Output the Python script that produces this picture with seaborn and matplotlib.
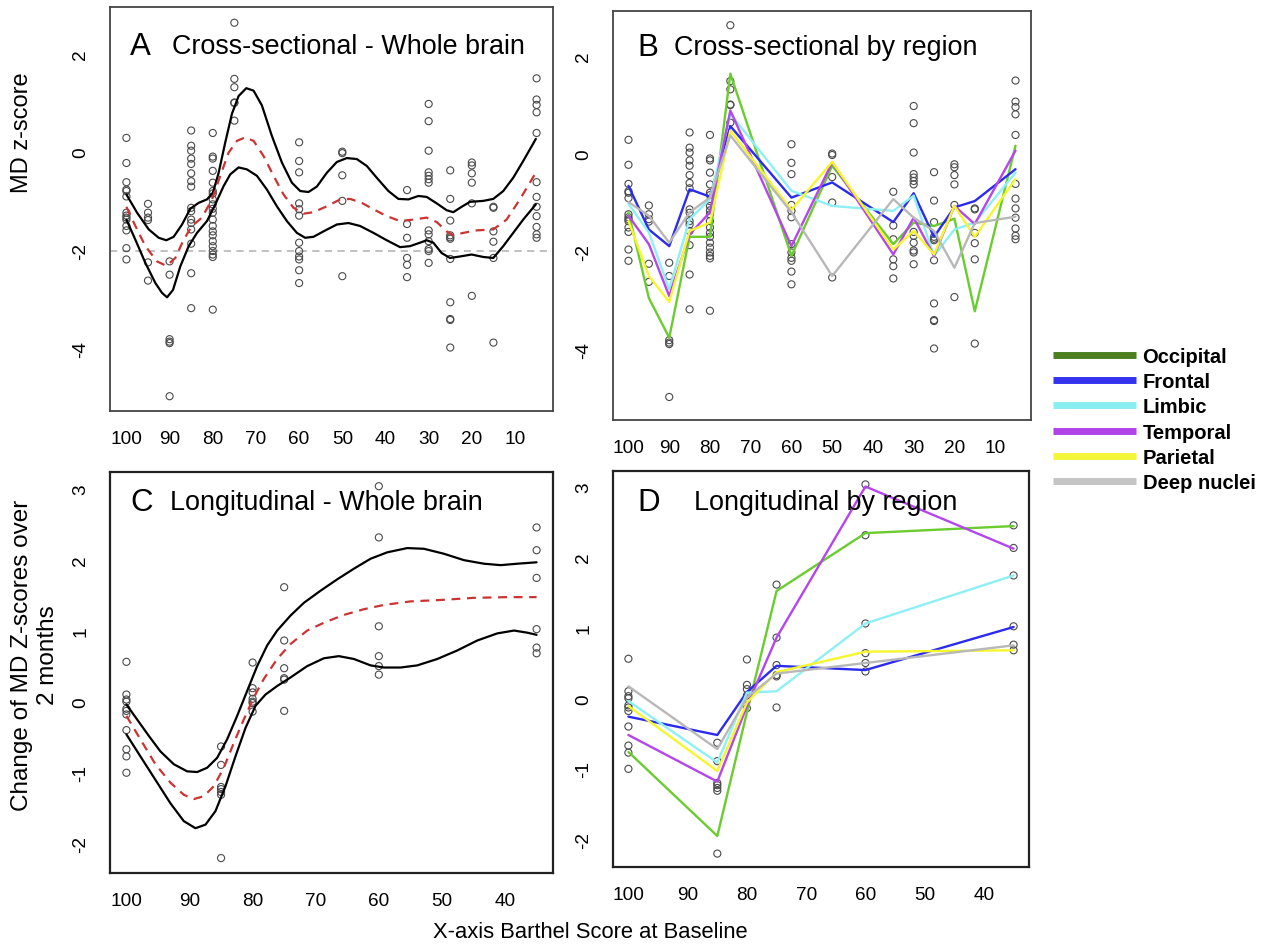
import numpy as np
import pandas as pd
import matplotlib
matplotlib.use("Agg")
import matplotlib.pyplot as plt
import seaborn as sns
from matplotlib.lines import Line2D

sns.set_style("white")
plt.rcParams["font.family"] = ["Liberation Sans", "DejaVu Sans"]
plt.rcParams["axes.unicode_minus"] = False
plt.rcParams["text.color"] = "black"

# ---- cross-sectional data (panels A, B) ----
cs_scores = [100, 95, 90, 85, 80, 75, 60, 50, 35, 30, 25, 20, 15, 5]
cs_values = [
    [0.29, -0.22, -0.61, -0.76, -0.79, -0.90, -1.23, -1.29, -1.33, -1.37, -1.50, -1.59, -1.95, -2.18],
    [-1.05, -1.23, -1.33, -1.38, -2.24, -2.61],
    [-2.22, -2.49, -3.80, -3.85, -3.88, -4.96],
    [0.44, 0.13, 0.03, -0.13, -0.24, -0.43, -0.59, -0.70, -1.13, -1.20, -1.37, -1.44, -1.57, -1.86, -2.46, -3.17],
    [0.39, -0.09, -0.13, -0.38, -0.62, -0.79, -0.84, -0.96, -1.06, -1.15, -1.23, -1.37, -1.50, -1.61,
     -1.69, -1.81, -1.91, -2.01, -2.08, -2.13, -3.20],
    [2.63, 1.49, 1.32, 1.01, 1.00, 0.64],
    [0.20, -0.18, -0.41, -1.04, -1.16, -1.29, -1.84, -2.01, -2.12, -2.18, -2.40, -2.66],
    [0.01, -0.02, -0.47, -0.99, -2.52],
    [-0.77, -1.46, -1.74, -2.15, -2.29, -2.54],
    [0.98, 0.63, 0.03, -0.41, -0.48, -0.55, -0.62, -1.59, -1.67, -1.81, -1.97, -2.01, -2.25],
    [-0.37, -0.95, -1.39, -1.69, -1.73, -1.76, -2.17, -3.05, -3.39, -3.41, -3.97],
    [-0.21, -0.27, -0.43, -0.62, -1.04, -2.92],
    [-1.11, -1.13, -1.61, -1.82, -2.15, -3.87],
    [1.50, 1.07, 0.96, 0.81, 0.39, -0.61, -0.91, -1.11, -1.30, -1.52, -1.67, -1.74],
]

# smooth fit (upper band, mean, lower band)
a_up_x = [100, 97.53, 94.83, 92.52, 90.75, 89.05, 87.12, 85.20, 83.27, 81.34, 79.95, 78.64, 77.10,
          75.56, 74.02, 72.24, 70.55, 68.62, 66.31, 63.99, 61.68, 59.75, 57.83, 55.90, 53.59, 51.27,
          48.96, 46.65, 44.33, 42.02, 39.32, 37.01, 34.69, 32.38, 30.45, 28.14, 25.83, 24.29, 22.36,
          20.43, 17.35, 15.03, 12.72, 10.41, 8.10, 5.17]
a_up_y = [-0.86, -1.23, -1.57, -1.74, -1.79, -1.72, -1.47, -1.15, -1.03, -0.96, -0.82, -0.42, 0.20,
          0.78, 1.14, 1.30, 1.25, 0.95, 0.33, -0.21, -0.62, -0.79, -0.81, -0.70, -0.42, -0.20,
          -0.12, -0.14, -0.28, -0.52, -0.79, -0.95, -0.96, -0.89, -0.91, -1.04, -1.18, -1.22, -1.11,
          -1.01, -0.99, -0.95, -0.79, -0.52, -0.18, 0.27]
a_lo_x = [100, 97.92, 95.61, 93.29, 91.75, 90.59, 89.21, 87.51, 85.58, 83.65, 81.34, 79.41, 77.49,
          75.94, 74.02, 72.09, 69.78, 67.46, 65.15, 62.84, 60.52, 58.60, 56.67, 54.36, 51.27, 48.57,
          45.88, 42.79, 39.71, 36.62, 34.31, 32.00, 30.45, 28.91, 26.99, 25.06, 22.74, 20.05, 17.35,
          15.03, 12.72, 10.41, 8.10, 5.17]
a_lo_y = [-1.37, -1.78, -2.25, -2.66, -2.86, -2.95, -2.80, -2.32, -1.91, -1.64, -1.40, -1.06, -0.69,
          -0.45, -0.31, -0.35, -0.48, -0.76, -1.10, -1.40, -1.64, -1.74, -1.72, -1.61, -1.47, -1.44,
          -1.50, -1.64, -1.79, -1.93, -1.91, -1.84, -1.79, -1.84, -2.05, -2.15, -2.12, -2.08, -2.13,
          -2.15, -1.91, -1.64, -1.37, -1.06]
a_mid_x = [100, 97.92, 95.61, 92.91, 90.75, 88.67, 86.74, 84.81, 82.50, 80.18, 78.26, 76.33, 74.40,
           72.47, 70.55, 68.23, 65.92, 63.61, 61.30, 58.98, 56.67, 53.59, 50.50, 48.19, 45.49, 42.79,
           39.71, 36.62, 33.54, 30.45, 28.14, 25.83, 24.29, 21.97, 18.89, 15.03, 11.95, 8.87, 5.40]
a_mid_y = [-1.11, -1.50, -1.91, -2.22, -2.31, -2.15, -1.78, -1.50, -1.33, -0.96, -0.48, -0.01, 0.23,
           0.30, 0.23, -0.08, -0.48, -0.86, -1.13, -1.25, -1.22, -1.10, -0.96, -0.95, -1.03, -1.16,
           -1.30, -1.40, -1.37, -1.33, -1.42, -1.61, -1.69, -1.64, -1.59, -1.57, -1.37, -0.96, -0.45]

# region means, panel B
regions = ["Occipital", "Frontal", "Limbic", "Temporal", "Parietal", "Deep nuclei"]
b_occipital = [-1.19, -2.94, -3.75, -1.69, -1.69, 1.64, -2.08, -0.24, -1.84, -1.40, -1.47, -1.32, -3.21, 0.17]
b_frontal = [-0.65, -1.54, -1.88, -0.72, -0.87, 0.57, -0.89, -0.58, -1.39, -0.80, -1.69, -1.09, -0.96, -0.31]
b_limbic = [-1.02, -1.60, -2.76, -1.33, -0.92, 0.82, -0.75, -1.06, -1.16, -0.85, -2.08, -1.54, -1.40, -0.38]
b_temporal = [-1.26, -1.84, -2.90, -1.64, -1.19, 0.89, -1.88, -0.17, -2.05, -1.30, -2.08, -1.06, -1.43, 0.07]
b_parietal = [-1.37, -2.49, -3.02, -1.57, -1.40, 0.48, -1.14, -0.16, -1.95, -1.57, -2.05, -1.06, -1.69, -0.51]
b_deep = [-0.98, -1.26, -1.81, -1.19, -0.89, 0.38, -1.19, -2.49, -0.92, -1.30, -1.57, -2.32, -1.41, -1.28]

# ---- longitudinal data (panels C, D) ----
lg_scores = [100, 85, 80, 75, 60, 35]
lg_values = [
    [0.56, 0.10, 0.03, 0.0, -0.10, -0.13, -0.18, -0.40, -0.67, -0.77, -1.00],
    [-0.63, -0.89, -1.20, -1.23, -1.27, -1.31, -2.20],
    [0.55, 0.19, 0.13, 0.04, 0.0, -0.02, -0.14],
    [1.61, 0.86, 0.47, 0.33, 0.31, -0.13],
    [3.03, 2.31, 1.06, 0.64, 0.50, 0.38],
    [2.45, 2.13, 1.74, 1.02, 0.76, 0.68],
]

c_up_x = [100, 98.31, 96.46, 94.61, 92.49, 90.38, 88.79, 87.21, 85.62, 84.04, 82.45, 80.87, 79.28,
          77.70, 76.11, 74.00, 71.88, 69.24, 66.60, 63.95, 61.31, 58.67, 55.50, 52.85, 49.68, 46.51,
          43.34, 40.70, 38.05, 35.0]
c_up_y = [-0.04, -0.25, -0.48, -0.70, -0.88, -0.98, -0.99, -0.93, -0.79, -0.53, -0.20, 0.15, 0.50,
          0.79, 1.00, 1.21, 1.39, 1.56, 1.72, 1.87, 2.01, 2.10, 2.16, 2.15, 2.08, 1.99,
          1.94, 1.92, 1.94, 1.96]
c_lo_x = [100, 97.78, 95.40, 93.02, 90.91, 89.06, 87.47, 85.89, 84.30, 82.72, 81.13, 79.55, 77.96,
          76.11, 74.00, 71.35, 68.71, 66.33, 63.95, 61.31, 59.20, 56.55, 53.91, 50.74, 47.57, 44.40,
          41.23, 38.58, 36.47, 35.0]
c_lo_y = [-0.46, -0.77, -1.10, -1.43, -1.68, -1.78, -1.73, -1.54, -1.19, -0.77, -0.37, -0.06, 0.10,
          0.22, 0.34, 0.50, 0.61, 0.64, 0.60, 0.51, 0.48, 0.48, 0.51, 0.60, 0.72, 0.86,
          0.96, 1.00, 0.97, 0.94]
c_mid_x = [100, 97.78, 95.40, 93.02, 90.91, 89.32, 87.74, 86.15, 84.57, 82.98, 81.40, 79.81, 78.22,
           76.11, 74.00, 71.35, 68.71, 65.54, 62.37, 59.20, 54.97, 50.21, 44.93, 39.64, 35.0]
c_mid_y = [-0.20, -0.53, -0.88, -1.14, -1.31, -1.37, -1.33, -1.19, -0.93, -0.58, -0.25, 0.06, 0.32,
           0.60, 0.81, 1.00, 1.11, 1.22, 1.30, 1.36, 1.41, 1.43, 1.46, 1.47, 1.47]

d_occipital = [-0.76, -1.95, -0.20, 1.52, 2.34, 2.44]
d_frontal = [-0.26, -0.52, 0.09, 0.46, 0.40, 1.01]
d_limbic = [-0.04, -0.91, 0.08, 0.10, 1.06, 1.74]
d_temporal = [-0.52, -1.18, -0.11, 0.86, 3.00, 2.12]
d_parietal = [-0.11, -1.03, -0.06, 0.37, 0.66, 0.68]
d_deep = [0.17, -0.72, 0.01, 0.35, 0.50, 0.75]

line_colors = ["#6acc2e", "#2b2bef", "#8ef0f4", "#b446ec", "#f6f62c", "#b8b8b8"]
legend_colors = ["#4b7f1f", "#3333ee", "#88eef0", "#b044e8", "#f5f53a", "#c4c4c4"]

W, H = 1265, 945


def px_rect(l, r, t, b):
    return [l / W, 1 - b / H, (r - l) / W, (b - t) / H]


def points_frame(scores, values):
    rows = [(s, v) for s, vals in zip(scores, values) for v in vals]
    return pd.DataFrame(rows, columns=["score", "value"])


def region_frame(scores, series):
    rows = []
    for name, vals in zip(regions, series):
        rows += [(name, s, v) for s, v in zip(scores, vals)]
    return pd.DataFrame(rows, columns=["region", "score", "value"])


def style_axis(ax, xlim, ylim, xticks, yticks, edge="#444444", lw=1.3):
    ax.set_xlim(*xlim)
    ax.set_ylim(*ylim)
    ax.set_xticks(xticks)
    ax.set_yticks(yticks)
    ax.set_xticklabels([str(t) for t in xticks])
    ax.set_yticklabels([str(t) for t in yticks], rotation=90, va="center")
    ax.tick_params(direction="out", length=7, width=1.1, color=edge,
                   labelsize=13.7, labelcolor="black")
    ax.tick_params(axis="x", pad=7)
    ax.tick_params(axis="y", pad=8)
    for sp in ax.spines.values():
        sp.set_visible(True)
        sp.set_color(edge)
        sp.set_linewidth(lw)
    ax.set_xlabel("")
    ax.set_ylabel("")


def draw_points(ax, df):
    sns.scatterplot(data=df, x="score", y="value", ax=ax, marker="o", s=26,
                    facecolor="none", edgecolor="#4a4a4a", linewidth=0.8, legend=False, zorder=2)


def draw_fit(ax, ux, uy, mx, my, lx, ly):
    sns.lineplot(x=ux, y=uy, ax=ax, color="black", lw=1.6, sort=False, estimator=None, zorder=3)
    sns.lineplot(x=lx, y=ly, ax=ax, color="black", lw=1.6, sort=False, estimator=None, zorder=3)
    sns.lineplot(x=mx, y=my, ax=ax, color="#cc3333", lw=1.6, sort=False, estimator=None,
                 zorder=3).lines[-1].set_dashes((4, 3))
    for ln in ax.lines:
        ln.set_solid_joinstyle("round")


def draw_regions(ax, df):
    sns.lineplot(data=df, x="score", y="value", hue="region", hue_order=regions,
                 palette=line_colors, ax=ax, lw=1.7, sort=False, estimator=None,
                 legend=False, zorder=3)


fig = plt.figure(figsize=(W / 100, H / 100), dpi=100)

cs_pts = points_frame(cs_scores, cs_values)
lg_pts = points_frame(lg_scores, lg_values)

# A
axA = fig.add_axes(px_rect(110, 553, 8, 412))
axA.axhline(-2, color="#bbbbbb", lw=1.3, ls=(0, (4, 3)), zorder=1)
draw_points(axA, cs_pts)
draw_fit(axA, a_up_x, a_up_y, a_mid_x, a_mid_y, a_lo_x, a_lo_y)
style_axis(axA, (103.8, 1.2), (-5.26, 2.95), list(range(100, 0, -10)), [-4, -2, 0, 2])

# B
axB = fig.add_axes(px_rect(613, 1031, 12, 421))
draw_points(axB, cs_pts)
draw_regions(axB, region_frame(cs_scores, [b_occipital, b_frontal, b_limbic,
                                           b_temporal, b_parietal, b_deep]))
style_axis(axB, (103.8, 1.2), (-5.43, 2.92), list(range(100, 0, -10)), [-4, -2, 0, 2])

# C
axC = fig.add_axes(px_rect(110, 553, 473, 874))
draw_points(axC, lg_pts)
draw_fit(axC, c_up_x, c_up_y, c_mid_x, c_mid_y, c_lo_x, c_lo_y)
style_axis(axC, (102.6, 32.4), (-2.41, 3.23), list(range(100, 30, -10)), [-2, -1, 0, 1, 2, 3],
           edge="#222222", lw=1.6)

# D
axD = fig.add_axes(px_rect(613, 1029, 472, 868))
draw_points(axD, lg_pts)
draw_regions(axD, region_frame(lg_scores, [d_occipital, d_frontal, d_limbic,
                                           d_temporal, d_parietal, d_deep]))
style_axis(axD, (102.6, 32.4), (-2.39, 3.22), list(range(100, 30, -10)), [-2, -1, 0, 1, 2, 3],
           edge="#222222", lw=1.6)

# panel titles
titles = [("A", 130, 172, 47, "Cross-sectional - Whole brain"),
          ("B", 637, 674, 48, "Cross-sectional by region"),
          ("C", 130, 170, 503, "Longitudinal - Whole brain"),
          ("D", 637, 694, 503, "Longitudinal by region")]
for letter, lx, tx, ty, text in titles:
    fig.text(lx / W, 1 - ty / H, letter, fontsize=22.5, ha="left", va="center")
    fig.text(tx / W, 1 - ty / H, text, fontsize=19.4, ha="left", va="center")

# axis labels
fig.text(22 / W, 1 - 133 / H, "MD z-score", rotation=90, fontsize=17,
         ha="center", va="center")
fig.text(22 / W, 1 - 655 / H, "Change of MD Z-scores over", rotation=90, fontsize=17.5,
         ha="center", va="center")
fig.text(48 / W, 1 - 655 / H, "2 months", rotation=90, fontsize=17.5,
         ha="center", va="center")
fig.text(590 / W, 1 - 933 / H, "X-axis Barthel Score at Baseline", fontsize=15.8,
         ha="center", va="center")

# legend
handles = [Line2D([], [], color=c, lw=5, solid_capstyle="butt") for c in legend_colors]
fig.legend(handles, regions, loc="upper left", bbox_to_anchor=(1053 / W, 1 - 348 / H),
           frameon=False, borderpad=0, borderaxespad=0, handlelength=4.1,
           handletextpad=0.35, labelspacing=0.31,
           prop={"weight": "bold", "size": 14.5})

fig.savefig("out.png", dpi=100)
